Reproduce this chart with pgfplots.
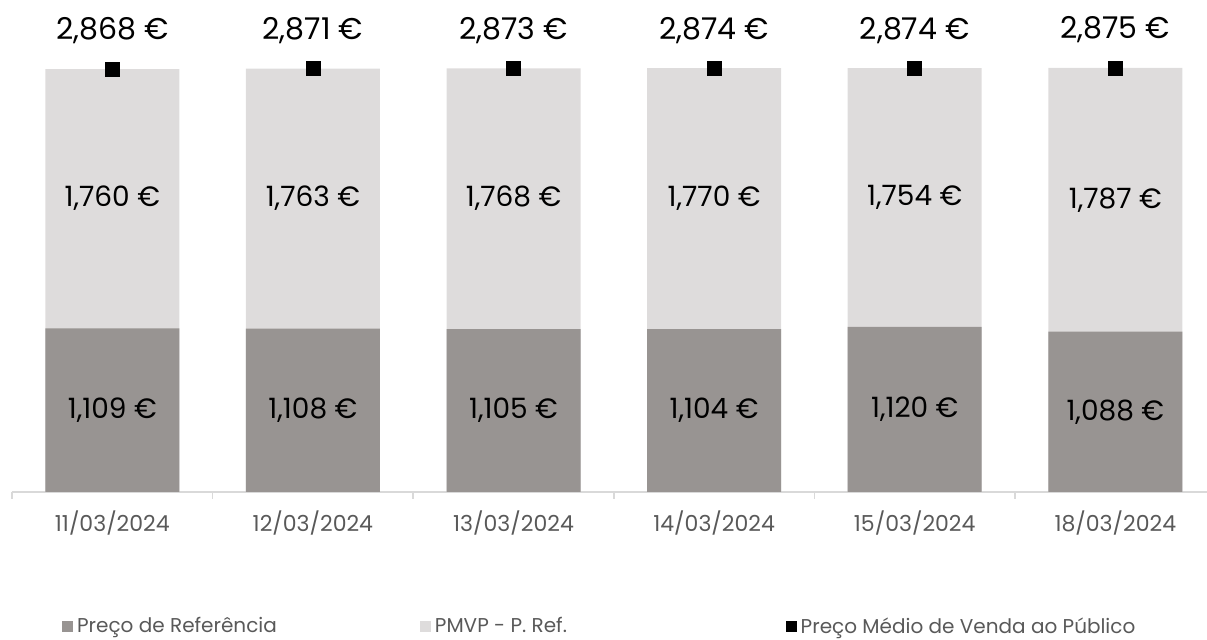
\documentclass[border=0pt]{standalone}
\usepackage{fontspec}
\setmainfont{Poppins}
\usepackage{pgfplots}
\usepackage{pgfplotstable}
\pgfplotsset{compat=1.18}

\definecolor{refgray}{HTML}{989492}
\definecolor{difgray}{HTML}{DEDCDC}
\definecolor{axgray}{HTML}{D9D9D9}
\definecolor{txtgray}{HTML}{595959}

% values in thousands of euro
\pgfplotstableread{
x ref diff total date
0 1.109 1.760 2.868 11/03/2024
1 1.108 1.763 2.871 12/03/2024
2 1.105 1.768 2.873 13/03/2024
3 1.104 1.770 2.874 14/03/2024
4 1.120 1.754 2.874 15/03/2024
5 1.088 1.787 2.875 18/03/2024
}\prices

\begin{document}
\begin{tikzpicture}
\begin{axis}[
    name=ax,
    scale only axis,
    width=597.5pt, height=246pt,
    xmin=-0.5, xmax=5.457,
    ymin=0, ymax=3.336,
    clip=false,
    axis y line=none,
    axis x line*=bottom,
    axis line style={draw=axgray, line width=0.75pt},
    xtick={0,...,5},
    xticklabels from table={\prices}{date},
    major tick length=0pt,
    tick align=outside,
    extra x ticks={-0.5,0.5,1.5,2.5,3.5,4.5},
    extra x tick labels={},
    extra x tick style={major tick length=3.5pt,
        tick style={draw=axgray, line width=0.75pt}},
    xticklabel style={font=\fontsize{11}{13}\selectfont, text=txtgray, yshift=-6pt},
    /pgf/number format/.cd, fixed, precision=3, fixed zerofill, use comma,
        assume math mode=true,
    /pgfplots/.cd,
    legend columns=3,
    legend style={at={(0.0418,-0.274)}, anchor=west, draw=none, fill=none,
        inner sep=0pt, font=\fontsize{10}{12}\selectfont, text=txtgray,
        /tikz/every even column/.append style={column sep=0pt}},
]
\addlegendimage{legend image code/.code={\fill[refgray] (0pt,-2.5pt) rectangle (5pt,2.5pt);}}
\addlegendentry{\makebox[169.5pt][l]{Preço de Referência}}
\addlegendimage{legend image code/.code={\fill[difgray] (0pt,-2.5pt) rectangle (5pt,2.5pt);}}
\addlegendentry{\makebox[173.5pt][l]{PMVP - P. Ref.}}
\addlegendimage{legend image code/.code={\fill[black] (0pt,-2.5pt) rectangle (5pt,2.5pt);}}
\addlegendentry{Preço Médio de Venda ao Público}

% light bar up to the total, dark bar over it
\addplot[ybar, bar width=67pt, bar shift=0pt, fill=difgray, draw=none, forget plot]
    table[x=x, y=total]{\prices};
\addplot[ybar, bar width=67pt, bar shift=0pt, fill=refgray, draw=none, forget plot]
    table[x=x, y=ref]{\prices};

% value labels
\addplot[draw=none, mark=none, forget plot, point meta=\thisrow{ref},
    nodes near coords={\pgfmathprintnumber{\pgfplotspointmeta}~€},
    nodes near coords style={anchor=center, font=\fontsize{14}{17}\selectfont}]
    table[x=x, y expr=\thisrow{ref}/2]{\prices};
\addplot[draw=none, mark=none, forget plot, point meta=\thisrow{diff},
    nodes near coords={\pgfmathprintnumber{\pgfplotspointmeta}~€},
    nodes near coords style={anchor=center, font=\fontsize{14}{17}\selectfont}]
    table[x=x, y expr=\thisrow{ref}+\thisrow{diff}/2]{\prices};

% average sale price
\addplot[only marks, mark=square*, mark size=3.5pt, black, forget plot]
    table[x=x, y=total]{\prices};
\addplot[draw=none, mark=none, forget plot, point meta=\thisrow{total},
    nodes near coords={\pgfmathprintnumber{\pgfplotspointmeta}~€},
    nodes near coords style={anchor=center, yshift=19pt, font=\fontsize{15}{18}\selectfont}]
    table[x=x, y=total]{\prices};
\end{axis}
\pgfresetboundingbox
\useasboundingbox ([xshift=-6pt, yshift=-74pt]ax.south west) rectangle (ax.north east);
\end{tikzpicture}
\end{document}
